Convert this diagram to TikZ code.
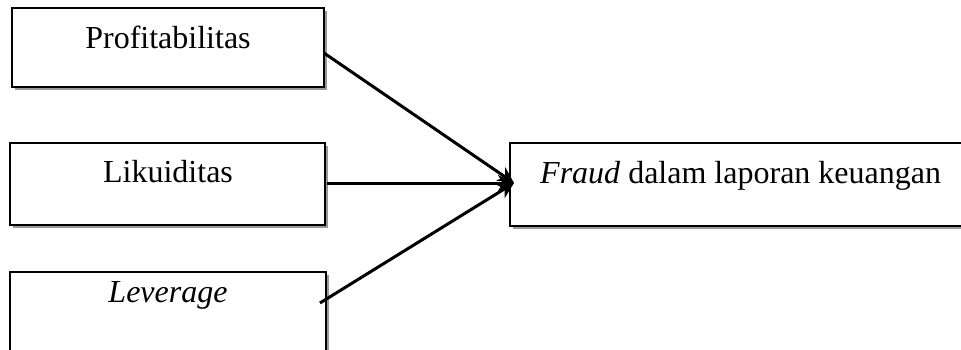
\documentclass[tikz,border=0pt]{standalone}
\usepackage{fontspec}
\setmainfont{Liberation Serif}
\usetikzlibrary{shadows,arrows.meta}
\begin{document}
\begin{tikzpicture}[x=1pt,y=-1pt,
  varbox/.style={draw=black,line width=1.2pt,fill=white,
    drop shadow={shadow xshift=3pt,shadow yshift=-3pt,fill=black,opacity=0.4}},
  lbl/.style={anchor=base,inner sep=0pt,font=\fontsize{32}{38}\selectfont},
  conn/.style={line width=3pt,-{Stealth[length=16pt,width=16pt,inset=5pt]}}]
\useasboundingbox (0,0) rectangle (961,349);
\path[varbox] (12,8) rectangle (324,87);
\path[varbox] (10,143) rectangle (325,225);
\path[varbox] (10,272) rectangle (326,380);
\path[varbox] (510,143) rectangle (1000,226);
\node[lbl] (p) at (168,48) {Profitabilitas};
\node[lbl] (l) at (168,182) {Likuiditas};
\node[lbl] (v) at (168,302) {\itshape Leverage};
\node[lbl,anchor=base west] (f) at (540,183) {\textit{Fraud} dalam laporan keuangan};
\coordinate (t) at (514,183);
\coordinate (ps) at (324,53);
\coordinate (ls) at (327,183);
\coordinate (vs) at (320,303);
\draw[conn] (ps) -- (t);
\draw[conn] (ls) -- (t);
\draw[conn] (vs) -- (t);
\end{tikzpicture}
\end{document}
